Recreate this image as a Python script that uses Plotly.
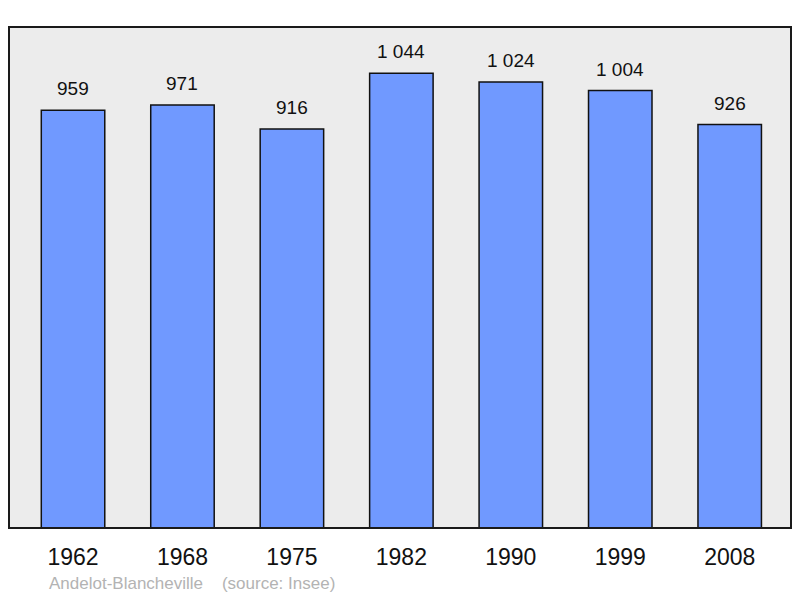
import plotly.graph_objects as go

years = ['1962', '1968', '1975', '1982', '1990', '1999', '2008']
population = [959, 971, 916, 1044, 1024, 1004, 926]
labels = ['959', '971', '916', '1 044', '1 024', '1 004', '926']

xs = list(range(len(years)))

fig = go.Figure()
fig.add_trace(go.Bar(x=xs, y=population, width=0.58,
                     marker=dict(color='#7099ff', line=dict(color='#111111', width=1.5)),
                     hoverinfo='skip'))

for x, y, t in zip(xs, population, labels):
    fig.add_annotation(x=x, y=y, text=t, showarrow=False, yanchor='bottom', yshift=9,
                       font=dict(family='Liberation Sans, Arial', size=19, color='#111111'))

# footer
fig.add_annotation(xref='paper', yref='paper', x=(47 - 9) / 782, y=-(583 - 528) / 501,
                   xanchor='left', yanchor='middle', showarrow=False,
                   text='Andelot-Blancheville &nbsp;&nbsp;&nbsp;(source: Insee)',
                   font=dict(family='Liberation Sans, Arial', size=17, color='#b3b3b3'))

fig.add_shape(type='rect', xref='paper', yref='paper', x0=0, x1=1, y0=0, y1=1,
              line=dict(color='#1a1a1a', width=2), layer='above')

fig.update_layout(
    width=800, height=598,
    margin=dict(l=9, r=9, t=27, b=70),
    paper_bgcolor='white', plot_bgcolor='#ececec',
    showlegend=False,
    xaxis=dict(range=[-0.585, 6.56], tickvals=xs, ticktext=years, showgrid=False,
               zeroline=False, ticks='outside', ticklen=8, tickcolor='rgba(0,0,0,0)',
               tickfont=dict(family='Liberation Sans, Arial', size=23, color='#111111')),
    yaxis=dict(range=[0, 1150], showgrid=False, zeroline=False, showticklabels=False),
)

fig.write_html('out.html', config={'displayModeBar': False},
               post_script="document.body.style.margin='0';document.body.style.overflow='hidden';")
